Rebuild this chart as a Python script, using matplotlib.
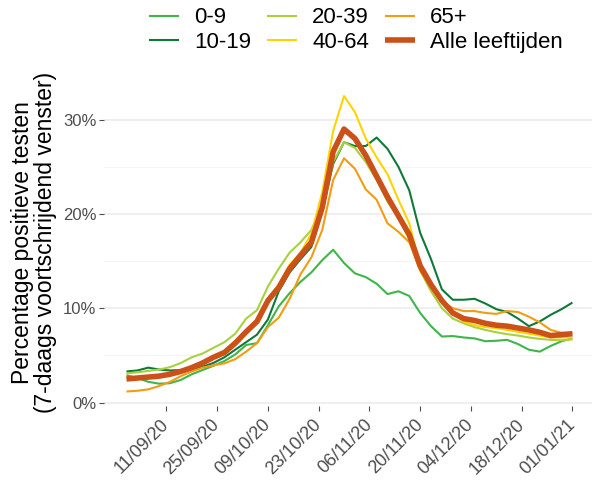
import numpy as np
import pandas as pd
import matplotlib
matplotlib.use('Agg')
import matplotlib.pyplot as plt
import matplotlib.dates as mdates
from matplotlib.ticker import FuncFormatter, MultipleLocator

plt.rcParams['font.family'] = ['Liberation Sans', 'DejaVu Sans']

# 7-day rolling share of positive tests, sampled every 3 days (31/08/20 - 01/01/21)
dates = pd.date_range('2020-08-31', '2021-01-01', freq='3D')

age_0_9 = [2.9, 2.6, 2.2, 2.0, 2.05, 2.4, 3.0, 3.45, 3.9, 4.4, 5.1, 6.1, 6.3, 8.2,
           10.2, 11.6, 12.8, 13.8, 15.1, 16.2, 14.8, 13.7, 13.3, 12.6, 11.5, 11.8,
           11.3, 9.5, 8.1, 7.0, 7.05, 6.9, 6.8, 6.5, 6.55, 6.65, 6.2, 5.6, 5.4, 6.0,
           6.5, 6.8]
age_10_19 = [3.3, 3.4, 3.7, 3.5, 3.4, 3.45, 3.55, 3.8, 4.2, 4.8, 5.6, 6.4, 7.2, 8.8,
             11.8, 13.8, 15.2, 16.5, 20.3, 25.3, 27.6, 27.2, 27.2, 28.1, 26.9, 25.0,
             22.5, 18.0, 15.2, 12.0, 10.9, 10.9, 11.0, 10.5, 9.9, 9.6, 8.9, 8.1, 8.6,
             9.3, 9.9, 10.6]
age_20_39 = [3.1, 3.2, 3.35, 3.5, 3.75, 4.2, 4.8, 5.2, 5.8, 6.4, 7.3, 8.9, 9.8, 12.3,
             14.2, 15.9, 17.0, 18.3, 21.0, 25.5, 27.6, 27.0, 25.5, 23.6, 21.3, 19.6,
             17.3, 14.0, 11.8, 10.0, 8.9, 8.4, 8.0, 7.7, 7.45, 7.25, 7.1, 6.9, 6.75,
             6.65, 6.6, 6.7]
age_40_64 = [2.6, 2.7, 2.8, 2.9, 3.1, 3.4, 3.8, 4.3, 4.9, 5.5, 6.5, 7.6, 8.8, 11.0,
             12.5, 14.6, 15.9, 17.9, 22.3, 28.8, 32.5, 30.8, 28.0, 26.0, 24.2, 21.5,
             19.0, 14.5, 12.2, 10.7, 9.5, 8.6, 8.2, 8.0, 7.9, 7.7, 7.5, 7.3, 7.1, 6.9,
             6.9, 6.9]
age_65 = [1.17, 1.25, 1.4, 1.75, 2.2, 2.8, 3.3, 3.7, 3.95, 4.15, 4.6, 5.4, 6.3, 8.0,
          9.0, 11.0, 13.6, 15.4, 18.3, 23.6, 25.9, 24.8, 22.6, 21.5, 19.0, 18.1, 17.0,
          14.0, 12.2, 10.8, 10.0, 9.7, 9.7, 9.5, 9.4, 9.7, 9.6, 9.1, 8.5, 7.7, 7.4, 7.35]
all_ages = [2.5, 2.6, 2.7, 2.8, 3.0, 3.3, 3.7, 4.2, 4.8, 5.3, 6.3, 7.5, 8.6, 10.8,
            12.2, 14.2, 15.6, 17.0, 20.7, 26.6, 29.0, 28.0, 26.2, 24.0, 21.8, 19.8,
            17.8, 14.5, 12.5, 10.8, 9.5, 8.9, 8.7, 8.4, 8.2, 8.1, 7.9, 7.7, 7.45, 7.1,
            7.2, 7.3]

labels = ['0-9', '10-19', '20-39', '40-64', '65+', 'Alle leeftijden']
colors = ['#3fb54a', '#0e7a3a', '#a8d13c', '#ffd400', '#f39c12', '#cb5119']
series = [age_0_9, age_10_19, age_20_39, age_40_64, age_65, all_ages]
tick_dates = pd.date_range('2020-09-11', '2021-01-01', freq='14D')

fig = plt.figure(figsize=(5.92, 4.82), dpi=100)
ax = fig.add_axes([0.176, 0.158, 0.824, 0.676])

for vals, lab, col in zip(series, labels, colors):
    lw = 4.0 if lab == 'Alle leeftijden' else 1.5
    ax.plot(dates, vals, color=col, lw=lw, label=lab, solid_capstyle='butt')

start = dates[0]
ax.set_xlim(start - pd.Timedelta(days=6.15), start + pd.Timedelta(days=128.4))
ax.set_ylim(-0.35, 34.2)

ax.set_xticks(tick_dates)
ax.xaxis.set_major_formatter(mdates.DateFormatter('%d/%m/%y'))
ax.yaxis.set_major_locator(MultipleLocator(10))
ax.yaxis.set_minor_locator(MultipleLocator(5))
ax.yaxis.set_major_formatter(FuncFormatter(lambda v, p: f'{v:.0f}%'))

ax.grid(axis='y', which='major', color='#ebebeb', lw=1.1)
ax.grid(axis='y', which='minor', color='#f2f2f2', lw=0.6)
ax.grid(axis='x', visible=False)
ax.set_axisbelow(True)
for s in ax.spines.values():
    s.set_visible(False)

ax.tick_params(axis='both', which='major', color='#4d4d4d', length=3.6, width=0.8,
               labelcolor='#4d4d4d', labelsize=12)
ax.tick_params(axis='x', labelsize=13, pad=8)
ax.tick_params(axis='y', which='minor', length=0)
ax.tick_params(axis='y', pad=2)
for t in ax.get_xticklabels():
    t.set_rotation(45)
    t.set_ha('right')
    t.set_va('center')
    t.set_rotation_mode('anchor')

ax.set_ylabel('Percentage positieve testen\n(7-daags voortschrijdend venster)',
              fontsize=16.5, color='black', linespacing=1.0)
ax.yaxis.set_label_coords(-0.097, 0.5)

fig.legend(loc='center', bbox_to_anchor=(356 / 592, 1 - 30 / 482), ncol=3,
           frameon=False, fontsize=16, handlelength=1.35, handletextpad=0.68,
           columnspacing=0.7, labelspacing=0.15, borderpad=0)

fig.savefig('out.png', dpi=100)
